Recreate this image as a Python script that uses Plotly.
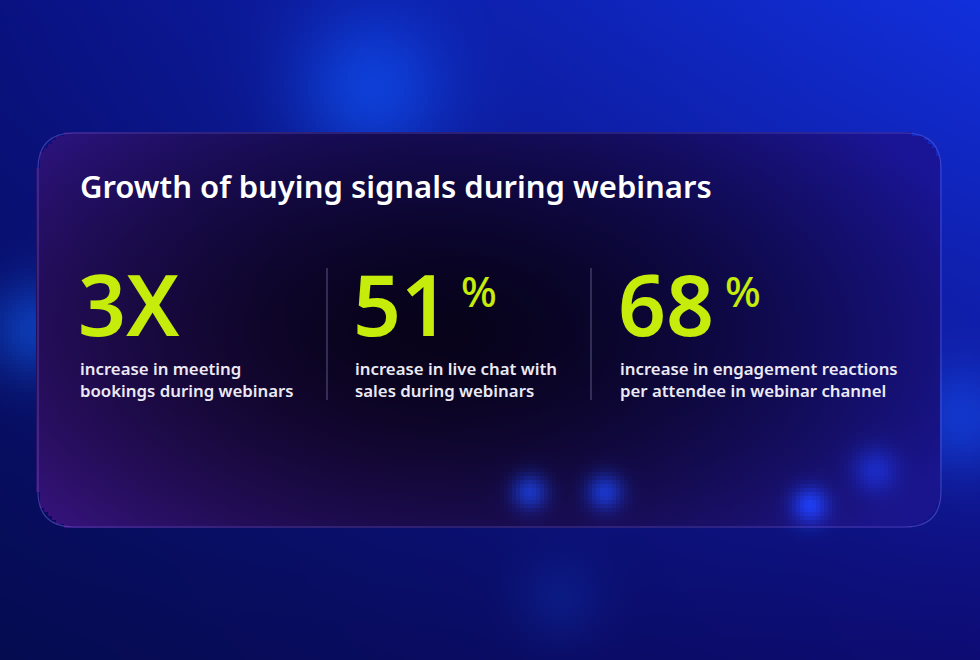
import numpy as np
import plotly.graph_objects as go

W, H = 980, 660
title = "Growth of buying signals during webinars"
values = ["3X", "51", "68"]
suffixes = ["", "%", "%"]
labels = ["increase in meeting<br>bookings during webinars",
          "increase in live chat with<br>sales during webinars",
          "increase in engagement reactions<br>per attendee in webinar channel"]
col_x = [80, 355, 620]
suffix_x = [None, 459, 723]
divider_x = [327, 591]

s = 4
xs = np.arange(0, W, s) + s / 2
ys = np.arange(0, H, s) + s / 2
X, Y = np.meshgrid(xs, ys)
t = X / W
u = Y / H
R = 10 + 8 * t - 4 * u
G = 18 + 30 * t * (1 - u) - 6 * u
B = 110 + 90 * t * (1 - u * 0.6) - 30 * u + 20 * (1 - u)
def blob(cx, cy, r, amp, col):
    d = np.exp(-((X - cx) ** 2 + (Y - cy) ** 2) / (2 * r * r)) * amp
    return [d * c for c in col]
blobs = [(370, 90, 55, 0.6, (10, 60, 200)), (35, 330, 35, 0.7, (20, 60, 200)),
         (960, 420, 40, 0.5, (20, 60, 200)), (150, 430, 25, 0.4, (10, 40, 160)),
         (530, 492, 13, 0.9, (20, 60, 230)), (605, 492, 13, 0.9, (20, 60, 230)),
         (810, 505, 13, 0.9, (20, 60, 230)), (875, 470, 16, 0.6, (20, 50, 200)),
         (560, 600, 30, 0.3, (10, 40, 150))]
for b in blobs:
    dr, dg, db = blob(*b)
    R += dr * 0.3; G += dg; B += db * 0.5

x0, x1, y0, y1, rad = 38, 941, 133, 527, 36
qx = np.clip(X, x0 + rad, x1 - rad)
qy = np.clip(Y, y0 + rad, y1 - rad)
inside = ((X - qx) ** 2 + (Y - qy) ** 2 <= rad ** 2) & (X >= x0) & (X <= x1) & (Y >= y0) & (Y <= y1)
cx, cy = 440, 330
dc = np.sqrt(((X - cx) / 430) ** 2 + ((Y - cy) / 240) ** 2)
dc = np.clip(dc, 0, 1.3)
cr = 3 + 28 * dc ** 1.6 * (1 - 0.5 * t) + 18 * u * (1 - t)
cg = 3 + 12 * dc ** 1.6
cb = 22 + 75 * dc ** 1.6 + 20 * t * (1 - u)
for b in blobs[4:8]:
    dr, dg, db = blob(*b)
    cr += dr * 0.3; cg += dg * 0.8; cb += db * 0.6
R = np.where(inside, cr, R); G = np.where(inside, cg, G); B = np.where(inside, cb, B)
img = np.clip(np.stack([R, G, B], axis=-1), 0, 255).astype(np.uint8)

fig = go.Figure(go.Image(z=img, x0=s / 2, dx=s, y0=s / 2, dy=s, hoverinfo="skip"))

shapes = [dict(type="path", xref="x", yref="y",
               path=f"M{x0+rad},{y0} L{x1-rad},{y0} Q{x1},{y0} {x1},{y0+rad} L{x1},{y1-rad} Q{x1},{y1} {x1-rad},{y1} "
                    f"L{x0+rad},{y1} Q{x0},{y1} {x0},{y1-rad} L{x0},{y0+rad} Q{x0},{y0} {x0+rad},{y0} Z",
               line=dict(color="rgba(110,95,220,0.5)", width=1.2), fillcolor="rgba(0,0,0,0)")]
for dx_ in divider_x:
    shapes.append(dict(type="line", x0=dx_, x1=dx_, y0=268, y1=400,
                       line=dict(color="rgba(140,140,190,0.6)", width=1)))

ann = [dict(x=78, y=186, text=title, showarrow=False, xanchor="left", yanchor="middle",
            font=dict(family="Noto Sans", size=31, color="#ffffff", weight=600))]
lime = "#c6ec0c"
for i in range(3):
    ann.append(dict(x=col_x[i] - 4, y=303, text=values[i], showarrow=False, xanchor="left", yanchor="middle",
                    font=dict(family="Noto Sans", size=84, color=lime, weight=600)))
    if suffixes[i]:
        ann.append(dict(x=suffix_x[i], y=290, text=suffixes[i], showarrow=False, xanchor="left", yanchor="middle",
                        font=dict(family="Noto Sans", size=42, color=lime, weight=500)))
    ann.append(dict(x=col_x[i] - 2, y=355, text=labels[i], showarrow=False, xanchor="left", yanchor="top", align="left",
                    font=dict(family="Noto Sans", size=16.8, color="#eceaf4", weight=600)))

fig.update_layout(width=W, height=H, margin=dict(l=0, r=0, t=0, b=0),
                  xaxis=dict(range=[0, W], visible=False, fixedrange=True),
                  yaxis=dict(range=[H, 0], visible=False, fixedrange=True),
                  shapes=shapes, annotations=ann, paper_bgcolor="#0c1a8a", plot_bgcolor="#0c1a8a")
fig.write_html("out.html", config={"displayModeBar": False},
               post_script="document.body.style.margin='0';document.body.style.overflow='hidden';")
